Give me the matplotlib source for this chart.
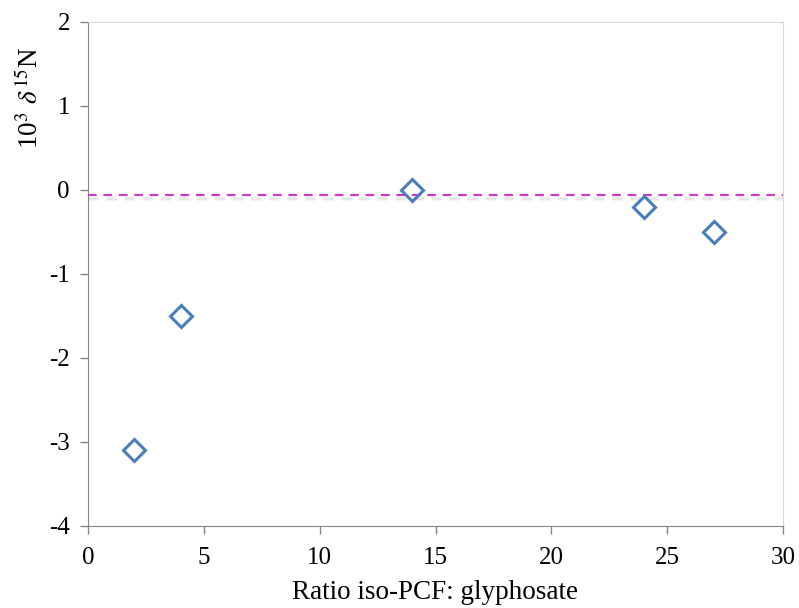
import matplotlib
matplotlib.use("Agg")
import matplotlib.pyplot as plt

plt.rcParams["font.family"] = ["Liberation Serif", "DejaVu Serif"]
plt.rcParams["mathtext.fontset"] = "stix"
plt.rcParams["axes.unicode_minus"] = False

# ── Data ──────────────────────────────────────────────────────────────────────
ratio = [2, 4, 14, 24, 27]
delta_n15 = [-3.1, -1.5, 0.0, -0.2, -0.5]
ref_level = -0.06

x_ticks = [0, 5, 10, 15, 20, 25, 30]
y_ticks = [-4, -3, -2, -1, 0, 1, 2]

# ── Figure ────────────────────────────────────────────────────────────────────
W, H, DPI = 799, 608, 100
fig = plt.figure(figsize=(W / DPI, H / DPI), dpi=DPI, facecolor="white")
ax = fig.add_axes([88 / W, 82 / H, 695 / W, 504 / H])

# soft shadow under the dashed reference line
for off, a in [(0.05, 0.07), (0.04, 0.09), (0.03, 0.10)]:
    ax.axhline(ref_level - off, color="#A0A0A0", lw=2.5, ls=(0, (3.0, 2.2)),
               alpha=a, zorder=2)
ax.axhline(ref_level, color="#D535C8", lw=1.5, ls=(0, (4.2, 3.2)), zorder=3)

ax.plot(ratio, delta_n15, ls="none", marker="D", markersize=11,
        markerfacecolor="none", markeredgecolor="#4A7EBB",
        markeredgewidth=2.2, zorder=4)

ax.set_xlim(0, 30)
ax.set_ylim(-4, 2)
ax.set_xticks(x_ticks)
ax.set_yticks(y_ticks)
ax.tick_params(direction="out", length=6, width=1, color="#868686",
               labelsize=18)
ax.tick_params(axis="x", pad=9)
ax.tick_params(axis="y", pad=7)

for side in ["top", "right"]:
    ax.spines[side].set_color("#D9D9D9")
for side in ["left", "bottom"]:
    ax.spines[side].set_color("#868686")

ax.set_xlabel("Ratio iso-PCF: glyphosate", fontsize=19.5, labelpad=8)
ax.set_ylabel(r"10$^{3}$ $\delta\,^{15}$N", fontsize=19.5)
ax.yaxis.set_label_coords(-0.064, 0.85)

fig.savefig("out.png", dpi=DPI, facecolor="white")
